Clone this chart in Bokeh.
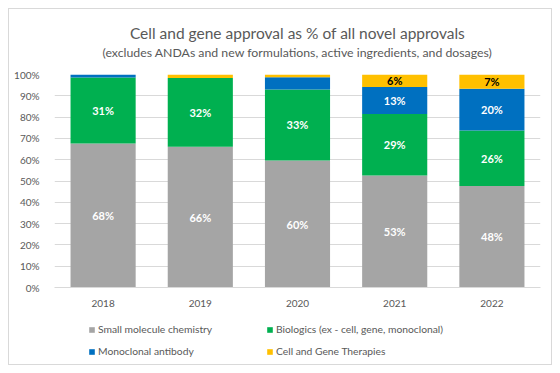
from bokeh.plotting import figure
from bokeh.layouts import column
from bokeh.models import (ColumnDataSource, Range1d, Legend, LegendItem, Label, FixedTicker,
                          PrintfTickFormatter)
from bokeh.core.properties import value
from bokeh.embed import file_html
from bokeh.resources import INLINE

years = ["2018", "2019", "2020", "2021", "2022"]
series = ["Small molecule chemistry", "Biologics (ex - cell, gene, monoclonal)",
          "Monoclonal antibody", "Cell and Gene Therapies"]
small = [67.6, 66.1, 59.6, 52.6, 47.7]
bio = [31.0, 32.2, 33.4, 28.8, 26.0]
mono = [1.4, 0.0, 5.7, 12.7, 19.6]
cgt = [0.0, 1.7, 1.3, 5.9, 6.7]
colors = ["#A5A5A5", "#00B050", "#0070C0", "#FFC000"]
label_colors = ["#FFFFFF", "#FFFFFF", "#FFFFFF", "#000000"]
show_labels = [[1, 1, 1, 1, 1], [1, 1, 1, 1, 1], [0, 0, 0, 1, 1], [0, 0, 0, 1, 1]]
y_ticks = [0, 10, 20, 30, 40, 50, 60, 70, 80, 90, 100]

title_main = "Cell and gene approval as % of all novel approvals"
title_sub = "(excludes ANDAs and new formulations, active ingredients, and dosages)"

FONT = "Lato"
TXT = "#595959"

keys = ["small", "bio", "mono", "cgt"]
data = dict(years=years, small=small, bio=bio, mono=mono, cgt=cgt)
src = ColumnDataSource(data)

# ---- title panel
tf = figure(width=542, height=59, x_range=Range1d(0, 542), y_range=Range1d(0, 59),
            x_axis_type=None, y_axis_type=None, output_backend="svg", toolbar_location=None,
            min_border=0)
tf.outline_line_color = None
tf.xgrid.grid_line_color = None
tf.ygrid.grid_line_color = None
tf.add_layout(Label(x=271, y=36, text=title_main, text_align="center", text_baseline="middle",
                    text_font=FONT, text_font_size="15.5px", text_color=TXT))
tf.add_layout(Label(x=271, y=16, text=title_sub, text_align="center", text_baseline="middle",
                    text_font=FONT, text_font_size="12.3px", text_color=TXT))

# ---- chart
p = figure(x_range=years, y_range=Range1d(0, 100), width=542, height=244,
           output_backend="svg", toolbar_location=None,
           min_border_left=45, min_border_right=11, min_border_top=6, min_border_bottom=25)
p.outline_line_color = None
p.background_fill_color = "white"
p.border_fill_color = "white"

rs = p.vbar_stack(keys, x="years", width=0.67, color=colors, line_color=None, source=src)

# data labels
lx, ly, lt, lc = [], [], [], []
vals = [small, bio, mono, cgt]
base = [0.0] * len(years)
for si, sv in enumerate(vals):
    for i, v in enumerate(sv):
        if show_labels[si][i]:
            lx.append(years[i])
            ly.append(base[i] + v / 2)
            lt.append(f"{round(v):d}%")
            lc.append(label_colors[si])
        base[i] += v
lsrc = ColumnDataSource(dict(x=lx, y=ly, t=lt, c=lc))
p.text(x="x", y="y", text="t", text_color="c", source=lsrc, text_align="center",
       text_baseline="middle", text_font=value(FONT), text_font_style="bold",
       text_font_size="11px")

# axes
p.yaxis.ticker = FixedTicker(ticks=y_ticks)
p.yaxis.formatter = PrintfTickFormatter(format="%d%%")
p.yaxis.axis_line_color = None
p.yaxis.major_tick_line_color = None
p.yaxis.minor_tick_line_color = None
p.yaxis.major_label_standoff = 9
p.xaxis.axis_line_color = "#D9D9D9"
p.xaxis.major_tick_line_color = None
p.xaxis.major_label_standoff = 6
for ax in (p.xaxis[0], p.yaxis[0]):
    ax.major_label_text_font = FONT
    ax.major_label_text_font_size = "10px"
    ax.major_label_text_color = TXT
p.xgrid.grid_line_color = None
p.ygrid.grid_line_color = "#D9D9D9"

# ---- legend panel
lf = figure(width=542, height=52, x_range=Range1d(0, 1), y_range=Range1d(0, 1),
            x_axis_type=None, y_axis_type=None, output_backend="svg", toolbar_location=None,
            min_border=0)
lf.outline_line_color = None
lf.xgrid.grid_line_color = None
lf.ygrid.grid_line_color = None
# off-range stand-ins so the legend can show each series' swatch
dummies = [lf.vbar(x=[-10], top=[-10], bottom=[-11], width=0.1, color=c, line_color=None)
           for c in colors]
for row, ybot in ((0, 25), (1, 3)):
    items = [LegendItem(label=series[2 * row + j], renderers=[dummies[2 * row + j]]) for j in range(2)]
    lg = Legend(items=items, location=(34, ybot), orientation="horizontal",
                glyph_width=7, glyph_height=7, label_standoff=3, label_width=168,
                label_height=20, spacing=0, padding=1, margin=0,
                border_line_color=None, background_fill_alpha=0,
                label_text_font=FONT, label_text_font_size="10.3px", label_text_color=TXT)
    lf.add_layout(lg, "center")

layout = column(tf, p, lf, spacing=0)
layout.styles = {"border": "1px solid #D9D9D9", "margin": "8px"}

open("out.html", "w").write(file_html(layout, INLINE))
